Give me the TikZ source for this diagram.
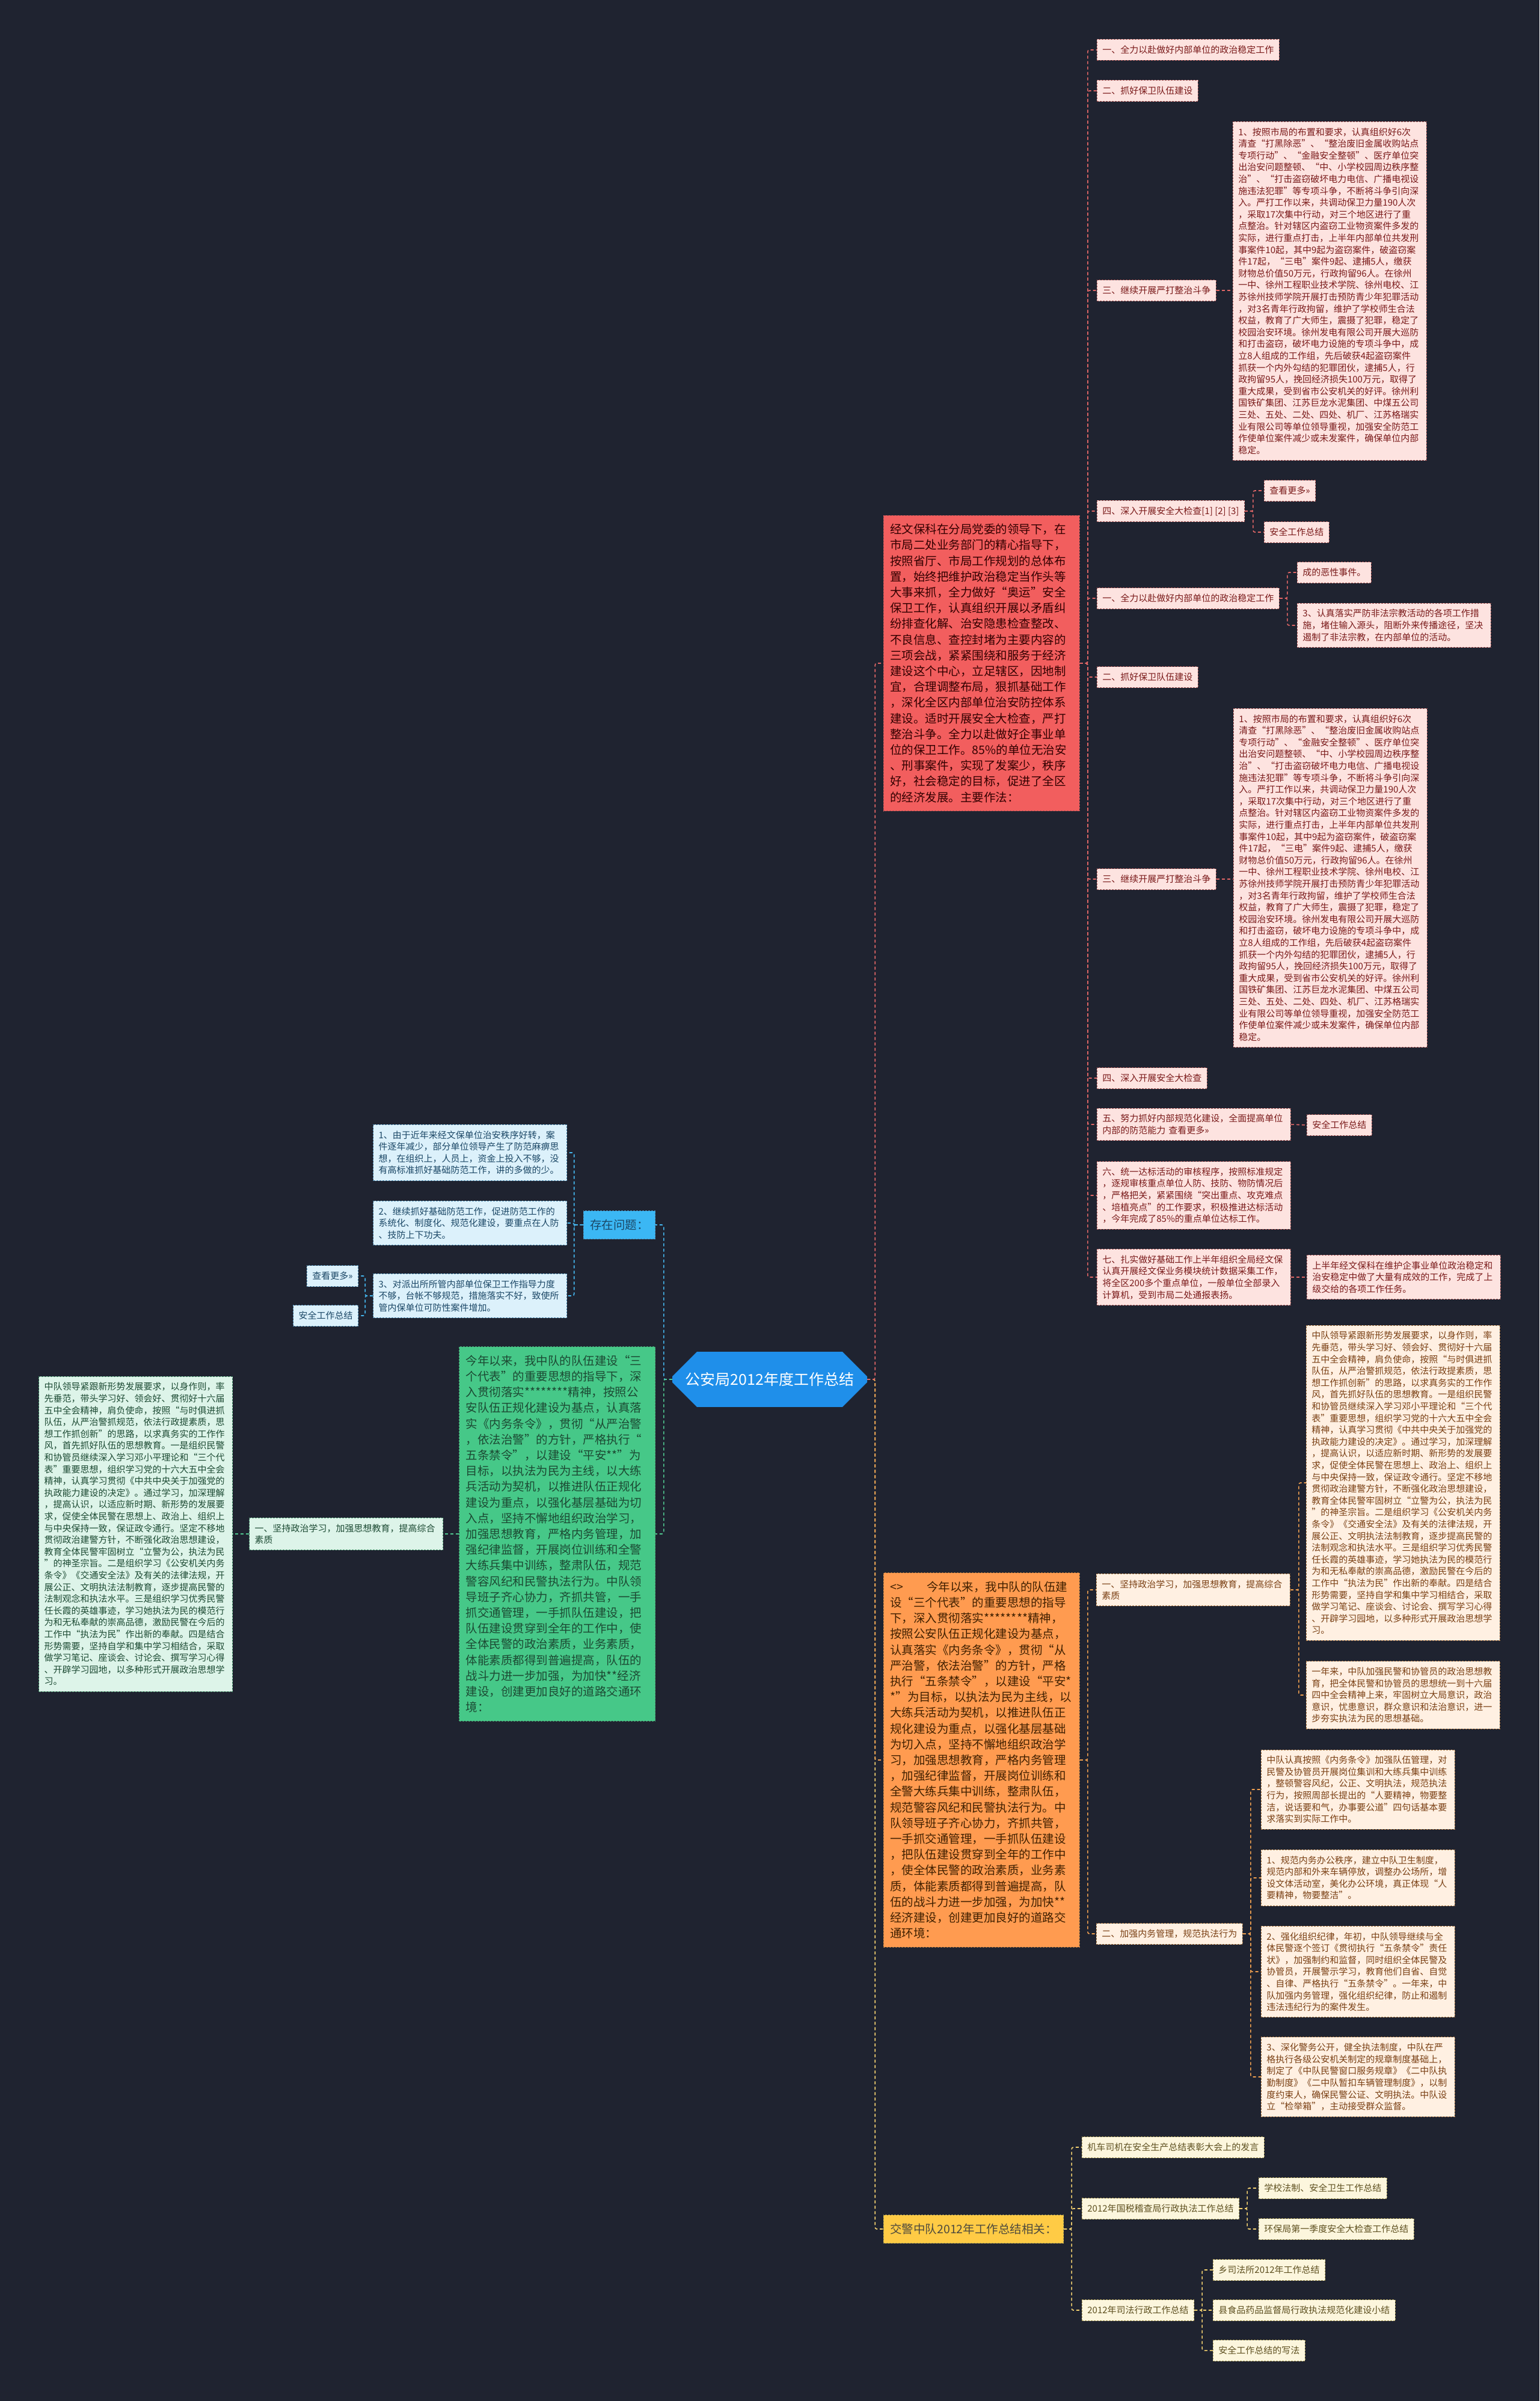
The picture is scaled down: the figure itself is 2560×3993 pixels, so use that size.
\documentclass[tikz,border=0pt]{standalone}
\usepackage{fontspec}
\setmainfont{Noto Sans CJK SC}
\usetikzlibrary{positioning, shapes.misc}

\definecolor{bgdark}{HTML}{1F2330}
\definecolor{hubblue}{HTML}{1F8FEA}
\definecolor{redmainc}{HTML}{F25E5E}
\definecolor{redsoft}{HTML}{FDE3E0}
\definecolor{redtext}{HTML}{7A1A1A}
\definecolor{rededge}{HTML}{A85454}
\definecolor{redline}{HTML}{E06666}
\definecolor{orgmainc}{HTML}{FF9B50}
\definecolor{orgsoft}{HTML}{FFF0E2}
\definecolor{orgtext}{HTML}{7A4014}
\definecolor{orgedge}{HTML}{A8733E}
\definecolor{orgline}{HTML}{F0A050}
\definecolor{yelmainc}{HTML}{FFCB45}
\definecolor{yelsoft}{HTML}{FCF6DD}
\definecolor{yeltext}{HTML}{5E5020}
\definecolor{yeledge}{HTML}{A89A55}
\definecolor{yelline}{HTML}{F2D070}
\definecolor{blumainc}{HTML}{3BB7F4}
\definecolor{blusoft}{HTML}{DCF1FB}
\definecolor{blutext}{HTML}{1B4766}
\definecolor{bluedge}{HTML}{4A88B0}
\definecolor{bluline}{HTML}{45B8F0}
\definecolor{grnmainc}{HTML}{46C888}
\definecolor{grnsoft}{HTML}{DDF4E9}
\definecolor{grntext}{HTML}{1C4A33}
\definecolor{grnedge}{HTML}{4A9A70}
\definecolor{grnline}{HTML}{50C890}

\newcommand{\yandatext}{1、按照市局的布置和要求，认真组织好6次\\
清查“打黑除恶”、“整治废旧金属收购站点\\
专项行动”、“金融安全整顿”、医疗单位突\\
出治安问题整顿、“中、小学校园周边秩序整\\
治”、“打击盗窃破坏电力电信、广播电视设\\
施违法犯罪”等专项斗争，不断将斗争引向深\\
入。严打工作以来，共调动保卫力量190人次\\
，采取17次集中行动，对三个地区进行了重\\
点整治。针对辖区内盗窃工业物资案件多发的\\
实际，进行重点打击，上半年内部单位共发刑\\
事案件10起，其中9起为盗窃案件，破盗窃案\\
件17起，“三电”案件9起、逮捕5人，缴获\\
财物总价值50万元，行政拘留96人。在徐州\\
一中、徐州工程职业技术学院、徐州电校、江\\
苏徐州技师学院开展打击预防青少年犯罪活动\\
，对3名青年行政拘留，维护了学校师生合法\\
权益，教育了广大师生，震摄了犯罪，稳定了\\
校园治安环境。徐州发电有限公司开展大巡防\\
和打击盗窃，破坏电力设施的专项斗争中，成\\
立8人组成的工作组，先后破获4起盗窃案件\\
抓获一个内外勾结的犯罪团伙，逮捕5人，行\\
政拘留95人，挽回经济损失100万元，取得了\\
重大成果，受到省市公安机关的好评。徐州利\\
国铁矿集团、江苏巨龙水泥集团、中煤五公司\\
三处、五处、二处、四处、机厂、江苏格瑞实\\
业有限公司等单位领导重视，加强安全防范工\\
作使单位案件减少或未发案件，确保单位内部\\
稳定。}

\newcommand{\xuexitext}{中队领导紧跟新形势发展要求，以身作则，率\\
先垂范，带头学习好、领会好、贯彻好十六届\\
五中全会精神，肩负使命，按照“与时俱进抓\\
队伍，从严治警抓规范，依法行政提素质，思\\
想工作抓创新”的思路，以求真务实的工作作\\
风，首先抓好队伍的思想教育。一是组织民警\\
和协管员继续深入学习邓小平理论和“三个代\\
表”重要思想，组织学习党的十六大五中全会\\
精神，认真学习贯彻《中共中央关于加强党的\\
执政能力建设的决定》。通过学习，加深理解\\
，提高认识，以适应新时期、新形势的发展要\\
求，促使全体民警在思想上、政治上、组织上\\
与中央保持一致，保证政令通行。坚定不移地\\
贯彻政治建警方针，不断强化政治思想建设，\\
教育全体民警牢固树立“立警为公，执法为民\\
”的神圣宗旨。二是组织学习《公安机关内务\\
条令》《交通安全法》及有关的法律法规，开\\
展公正、文明执法法制教育，逐步提高民警的\\
法制观念和执法水平。三是组织学习优秀民警\\
任长霞的英雄事迹，学习她执法为民的模范行\\
为和无私奉献的崇高品德，激励民警在今后的\\
工作中“执法为民”作出新的奉献。四是结合\\
形势需要，坚持自学和集中学习相结合，采取\\
做学习笔记、座谈会、讨论会、撰写学习心得\\
、开辟学习园地，以多种形式开展政治思想学\\
习。}

\begin{document}
\begin{tikzpicture}[
	x=1pt, y=-1pt,
	box/.style = {draw, dash pattern=on 3pt off 2pt, rectangle, align=left, line width=0.8, inner xsep=9, inner ysep=10},
	leaf/.style = {box, anchor=west, font=\fontsize{15}{19.6}\selectfont, minimum height=35},
	wide/.style = {text width=304},
	main/.style = {box, anchor=west, font=\fontsize{19.5}{26.2}\selectfont, inner xsep=11, inner ysep=14, minimum height=47},
	mainwide/.style = {text width=304},
	redmain/.style = {main, mainwide, fill=redmainc, draw=rededge, text=black!80!red},
	redleaf/.style = {leaf, fill=redsoft, draw=rededge, text=redtext},
	orgmain/.style = {main, mainwide, fill=orgmainc, draw=orgedge, text=black!75!orange},
	orgleaf/.style = {leaf, fill=orgsoft, draw=orgedge, text=orgtext},
	yelmain/.style = {main, fill=yelmainc, draw=yeledge, text=black!80!yellow},
	yelleaf/.style = {leaf, fill=yelsoft, draw=yeledge, text=yeltext},
	blumain/.style = {main, anchor=east, fill=blumainc, draw=bluedge, text=blutext},
	bluleaf/.style = {leaf, anchor=east, fill=blusoft, draw=bluedge, text=blutext},
	grnmain/.style = {main, mainwide, anchor=east, fill=grnmainc, draw=grnedge, text=grntext},
	grnleaf/.style = {leaf, anchor=east, fill=grnsoft, draw=grnedge, text=grntext},
	hub/.style = {chamfered rectangle, chamfered rectangle xsep=10, chamfered rectangle ysep=31, fill=hubblue, text=white, minimum width=324, minimum height=63, font=\fontsize{25}{30}\selectfont},
	link/.style = {dash pattern=on 5pt off 4pt, line width=1.6, rounded corners=3},
	redlink/.style = {link, draw=redline},
	orglink/.style = {link, draw=orgline},
	yellink/.style = {link, draw=yelline},
	blulink/.style = {link, draw=bluline},
	grnlink/.style = {link, draw=grnline}
]

	\fill[bgdark] (0,0) rectangle (2560,3993);
	\useasboundingbox (0,0) rectangle (2560,3993);

	\node[hub] (hub) at (1280,2294) {公安局2012年度工作总结};

	% right side, first branch
	\node[redmain] (jingwen) at (1469,1103) {经文保科在分局党委的领导下，在\\
		市局二处业务部门的精心指导下，\\
		按照省厅、市局工作规划的总体布\\
		置，始终把维护政治稳定当作头等\\
		大事来抓，全力做好“奥运”安全\\
		保卫工作，认真组织开展以矛盾纠\\
		纷排查化解、治安隐患检查整改、\\
		不良信息、查控封堵为主要内容的\\
		三项会战，紧紧围绕和服务于经济\\
		建设这个中心，立足辖区，因地制\\
		宜，合理调整布局，狠抓基础工作\\
		，深化全区内部单位治安防控体系\\
		建设。适时开展安全大检查，严打\\
		整治斗争。全力以赴做好企事业单\\
		位的保卫工作。85\%的单位无治安\\
		、刑事案件，实现了发案少，秩序\\
		好，社会稳定的目标，促进了全区\\
		的经济发展。主要作法：};

	\node[redleaf] (r1) at (1824,83) {一、全力以赴做好内部单位的政治稳定工作};
	\node[redleaf] (r2) at (1824,151) {二、抓好保卫队伍建设};
	\node[redleaf] (r3) at (1824,483) {三、继续开展严打整治斗争};
	\node[redleaf, wide] (r3a) at (2050,484) {\yandatext};
	\node[redleaf] (r4) at (1824,850) {四、深入开展安全大检查[1] [2] [3]};
	\node[redleaf] (r4a) at (2102,816) {查看更多>>};
	\node[redleaf] (r4b) at (2102,885) {安全工作总结};
	\node[redleaf] (r5) at (1824,995) {一、全力以赴做好内部单位的政治稳定工作};
	\node[redleaf] (r5a) at (2157,952) {成的恶性事件。};
	\node[redleaf, wide] (r5b) at (2157,1040) {3、认真落实严防非法宗教活动的各项工作措\\
		施，堵住输入源头，阻断外来传播途径，坚决\\
		遏制了非法宗教，在内部单位的活动。};
	\node[redleaf] (r6) at (1824,1126) {二、抓好保卫队伍建设};
	\node[redleaf] (r7) at (1824,1462) {三、继续开展严打整治斗争};
	\node[redleaf, wide] (r7a) at (2051,1460) {\yandatext};
	\node[redleaf] (r8) at (1824,1793) {四、深入开展安全大检查};
	\node[redleaf, wide] (r9) at (1824,1870) {五、努力抓好内部规范化建设，全面提高单位\\
		内部的防范能力 查看更多>>};
	\node[redleaf] (r9a) at (2173,1871) {安全工作总结};
	\node[redleaf, wide] (r10) at (1824,1988) {六、统一达标活动的审核程序，按照标准规定\\
		，逐规审核重点单位人防、技防、物防情况后\\
		，严格把关，紧紧围绕“突出重点、攻克难点\\
		、培植亮点”的工作要求，积极推进达标活动\\
		，今年完成了85\%的重点单位达标工作。};
	\node[redleaf, wide] (r11) at (1824,2124) {七、扎实做好基础工作上半年组织全局经文保\\
		认真开展经文保业务模块统计数据采集工作，\\
		将全区200多个重点单位，一般单位全部录入\\
		计算机，受到市局二处通报表扬。};
	\node[redleaf, wide] (r11a) at (2173,2124) {上半年经文保科在维护企事业单位政治稳定和\\
		治安稳定中做了大量有成效的工作，完成了上\\
		级交给的各项工作任务。};

	% right side, second branch
	\node[orgmain] (zhongdui) at (1469,2927) {\mbox{<>\hspace{2em}今年以来，我中队的队伍建}\\
		设“三个代表”的重要思想的指导\\
		下，深入贯彻落实********精神，\\
		按照公安队伍正规化建设为基点，\\
		认真落实《内务条令》，贯彻“从\\
		严治警，依法治警”的方针，严格\\
		执行“五条禁令”，以建设“平安*\\{}
		*”为目标，以执法为民为主线，以\\
		大练兵活动为契机，以推进队伍正\\
		规化建设为重点，以强化基层基础\\
		为切入点，坚持不懈地组织政治学\\
		习，加强思想教育，严格内务管理\\
		，加强纪律监督，开展岗位训练和\\
		全警大练兵集中训练，整肃队伍，\\
		规范警容风纪和民警执法行为。中\\
		队领导班子齐心协力，齐抓共管，\\
		一手抓交通管理，一手抓队伍建设\\
		，把队伍建设贯穿到全年的工作中\\
		，使全体民警的政治素质，业务素\\
		质，体能素质都得到普遍提高，队\\
		伍的战斗力进一步加强，为加快**\\
		经济建设，创建更加良好的道路交\\
		通环境：};

	\node[orgleaf, wide] (o1) at (1823,2644) {一、坚持政治学习，加强思想教育，提高综合\\素质};
	\node[orgleaf, wide] (o1a) at (2172,2466) {\xuexitext};
	\node[orgleaf, wide] (o1b) at (2172,2819) {一年来，中队加强民警和协管员的政治思想教\\
		育，把全体民警和协管员的思想统一到十六届\\
		四中全会精神上来，牢固树立大局意识，政治\\
		意识，忧患意识，群众意识和法治意识，进一\\
		步夯实执法为民的思想基础。};
	\node[orgleaf] (o2) at (1823,3216) {二、加强内务管理，规范执法行为};
	\node[orgleaf, wide] (o2a) at (2097,2976) {中队认真按照《内务条令》加强队伍管理，对\\
		民警及协管员开展岗位集训和大练兵集中训练\\
		，整顿警容风纪，公正、文明执法，规范执法\\
		行为，按照周部长提出的“人要精神，物要整\\
		洁，说话要和气，办事要公道”四句话基本要\\
		求落实到实际工作中。};
	\node[orgleaf, wide] (o2b) at (2097,3123) {1、规范内务办公秩序，建立中队卫生制度，\\
		规范内部和外来车辆停放，调整办公场所，增\\
		设文体活动室，美化办公环境，真正体现“人\\
		要精神，物要整洁”。};
	\node[orgleaf, wide] (o2c) at (2097,3279) {2、强化组织纪律，年初，中队领导继续与全\\
		体民警逐个签订《贯彻执行“五条禁令”责任\\
		状》，加强制约和监督，同时组织全体民警及\\
		协管员，开展警示学习，教育他们自省、自觉\\
		、自律、严格执行“五条禁令”。一年来，中\\
		队加强内务管理，强化组织纪律，防止和遏制\\
		违法违纪行为的案件发生。};
	\node[orgleaf, wide] (o2d) at (2097,3454) {3、深化警务公开，健全执法制度，中队在严\\
		格执行各级公安机关制定的规章制度基础上，\\
		制定了《中队民警窗口服务规章》《二中队执\\
		勤制度》《二中队暂扣车辆管理制度》，以制\\
		度约束人，确保民警公证、文明执法。中队设\\
		立“检举箱”，主动接受群众监督。};

	% right side, third branch
	\node[yelmain] (jiaojing) at (1469,3707) {交警中队2012年工作总结相关：};
	\node[yelleaf] (y1) at (1799,3571) {机车司机在安全生产总结表彰大会上的发言};
	\node[yelleaf] (y2) at (1799,3673) {2012年国税稽查局行政执法工作总结};
	\node[yelleaf] (y2a) at (2093,3639) {学校法制、安全卫生工作总结};
	\node[yelleaf] (y2b) at (2093,3707) {环保局第一季度安全大检查工作总结};
	\node[yelleaf] (y3) at (1799,3842) {2012年司法行政工作总结};
	\node[yelleaf] (y3a) at (2017,3775) {乡司法所2012年工作总结};
	\node[yelleaf] (y3b) at (2017,3842) {县食品药品监督局行政执法规范化建设小结};
	\node[yelleaf] (y3c) at (2017,3909) {安全工作总结的写法};

	% left side
	\node[blumain] (wenti) at (1090,2037) {存在问题：};
	\node[bluleaf, wide] (b1) at (943,1917) {1、由于近年来经文保单位治安秩序好转，案\\
		件逐年减少，部分单位领导产生了防范麻痹思\\
		想，在组织上，人员上，资金上投入不够，没\\
		有高标准抓好基础防范工作，讲的多做的少。};
	\node[bluleaf, wide] (b2) at (943,2034) {2、继续抓好基础防范工作，促进防范工作的\\
		系统化、制度化、规范化建设，要重点在人防\\
		、技防上下功夫。};
	\node[bluleaf, wide] (b3) at (943,2155) {3、对派出所所管内部单位保卫工作指导力度\\
		不够，台帐不够规范，措施落实不好，致使所\\
		管内保单位可防性案件增加。};
	\node[bluleaf] (b3a) at (596,2122) {查看更多>>};
	\node[bluleaf] (b3b) at (596,2188) {安全工作总结};

	\node[grnmain] (duiwu) at (1090,2551) {今年以来，我中队的队伍建设“三\\
		个代表”的重要思想的指导下，深\\
		入贯彻落实********精神，按照公\\
		安队伍正规化建设为基点，认真落\\
		实《内务条令》，贯彻“从严治警\\
		，依法治警”的方针，严格执行“\\
		五条禁令”，以建设“平安**”为\\
		目标，以执法为民为主线，以大练\\
		兵活动为契机，以推进队伍正规化\\
		建设为重点，以强化基层基础为切\\
		入点，坚持不懈地组织政治学习，\\
		加强思想教育，严格内务管理，加\\
		强纪律监督，开展岗位训练和全警\\
		大练兵集中训练，整肃队伍，规范\\
		警容风纪和民警执法行为。中队领\\
		导班子齐心协力，齐抓共管，一手\\
		抓交通管理，一手抓队伍建设，把\\
		队伍建设贯穿到全年的工作中，使\\
		全体民警的政治素质，业务素质，\\
		体能素质都得到普遍提高，队伍的\\
		战斗力进一步加强，为加快**经济\\
		建设，创建更加良好的道路交通环\\
		境：};
	\node[grnleaf, wide] (g1) at (737,2551) {一、坚持政治学习，加强思想教育，提高综合\\素质};
	\node[grnleaf, wide] (g1a) at (387,2551) {\xuexitext};

	\draw[yellink] (hub.east) -- ++(13,0) |- (jiaojing.west);
	\draw[orglink] (hub.east) -- ++(13,0) |- (zhongdui.west);
	\draw[redlink] (hub.east) -- ++(13,0) |- (jingwen.west);
	\draw[blulink] (hub.west) -- ++(-14,0) |- (wenti.east);
	\draw[grnlink] (hub.west) -- ++(-14,0) |- (duiwu.east);

	\draw[redlink] (jingwen.east) -- ++(13,0) |- (r1.west);
	\draw[redlink] (jingwen.east) -- ++(13,0) |- (r2.west);
	\draw[redlink] (jingwen.east) -- ++(13,0) |- (r3.west);
	\draw[redlink] (jingwen.east) -- ++(13,0) |- (r4.west);
	\draw[redlink] (jingwen.east) -- ++(13,0) |- (r5.west);
	\draw[redlink] (jingwen.east) -- ++(13,0) |- (r6.west);
	\draw[redlink] (jingwen.east) -- ++(13,0) |- (r7.west);
	\draw[redlink] (jingwen.east) -- ++(13,0) |- (r8.west);
	\draw[redlink] (jingwen.east) -- ++(13,0) |- (r9.west);
	\draw[redlink] (jingwen.east) -- ++(13,0) |- (r10.west);
	\draw[redlink] (jingwen.east) -- ++(13,0) |- (r11.west);
	\draw[redlink] (r3.east) -- (r3a.west |- r3.east);
	\draw[redlink] (r4.east) -- ++(14,0) |- (r4a.west);
	\draw[redlink] (r4.east) -- ++(14,0) |- (r4b.west);
	\draw[redlink] (r5.east) -- ++(13,0) |- (r5a.west);
	\draw[redlink] (r5.east) -- ++(13,0) |- (r5b.west);
	\draw[redlink] (r7.east) -- (r7a.west |- r7.east);
	\draw[redlink] (r9.east) -- (r9a.west);
	\draw[redlink] (r11.east) -- (r11a.west);

	\draw[orglink] (zhongdui.east) -- ++(13,0) |- (o1.west);
	\draw[orglink] (zhongdui.east) -- ++(13,0) |- (o2.west);
	\draw[orglink] (o1.east) -- ++(14,0) |- (o1a.west);
	\draw[orglink] (o1.east) -- ++(14,0) |- (o1b.west);
	\draw[orglink] (o2.east) -- ++(13,0) |- (o2a.west);
	\draw[orglink] (o2.east) -- ++(13,0) |- (o2b.west);
	\draw[orglink] (o2.east) -- ++(13,0) |- (o2c.west);
	\draw[orglink] (o2.east) -- ++(13,0) |- (o2d.west);

	\draw[yellink] (jiaojing.east) -- ++(13,0) |- (y1.west);
	\draw[yellink] (jiaojing.east) -- ++(13,0) |- (y2.west);
	\draw[yellink] (jiaojing.east) -- ++(13,0) |- (y3.west);
	\draw[yellink] (y2.east) -- ++(13,0) |- (y2a.west);
	\draw[yellink] (y2.east) -- ++(13,0) |- (y2b.west);
	\draw[yellink] (y3.east) -- ++(13,0) |- (y3a.west);
	\draw[yellink] (y3.east) -- ++(13,0) |- (y3b.west);
	\draw[yellink] (y3.east) -- ++(13,0) |- (y3c.west);

	\draw[blulink] (wenti.west) -- ++(-15,0) |- (b1.east);
	\draw[blulink] (wenti.west) -- ++(-15,0) |- (b2.east);
	\draw[blulink] (wenti.west) -- ++(-15,0) |- (b3.east);
	\draw[blulink] (b3.west) -- ++(-13,0) |- (b3a.east);
	\draw[blulink] (b3.west) -- ++(-13,0) |- (b3b.east);

	\draw[grnlink] (duiwu.west) -- (g1.east);
	\draw[grnlink] (g1.west) -- (g1a.east);
\end{tikzpicture}
\end{document}
